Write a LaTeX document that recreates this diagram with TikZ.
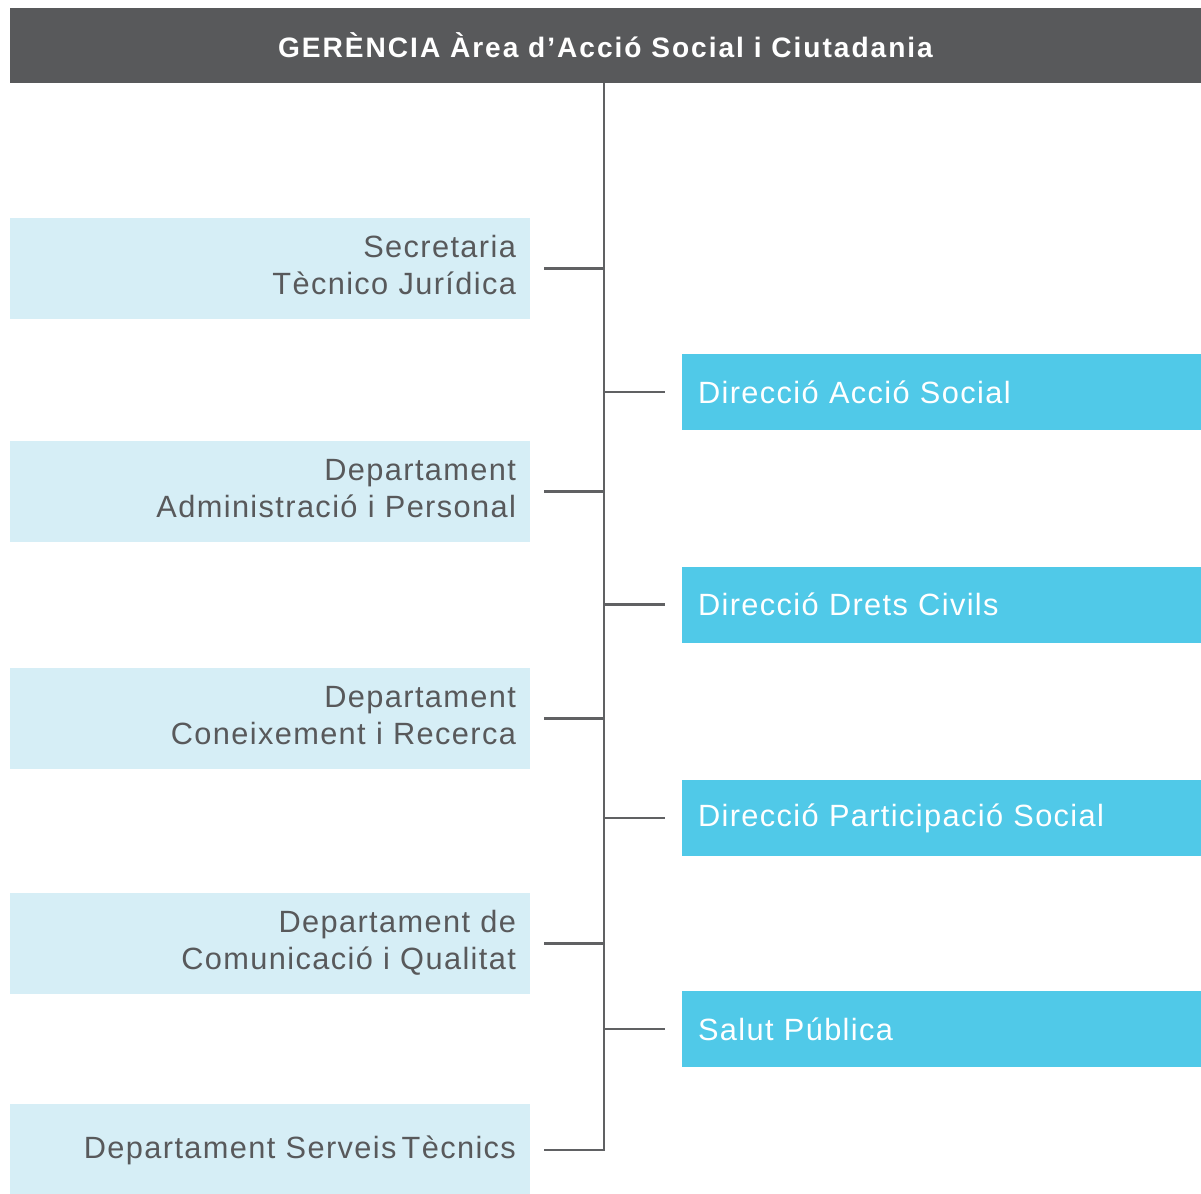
\documentclass[tikz,border=0pt]{standalone}
\usepackage{fontspec}
\setmainfont{Liberation Sans}[LetterSpace=4.5]
\newfontfamily\headfont{Liberation Sans}[LetterSpace=7]
\usetikzlibrary{positioning}

\definecolor{headgray}{HTML}{58595B}
\definecolor{palecyan}{HTML}{D6EEF6}
\definecolor{brightcyan}{HTML}{50C9E8}
\definecolor{linegray}{HTML}{606163}

\tikzset{
	leftbox/.style={fill=palecyan, text=headgray, minimum width=10.4cm, minimum height=2.02cm,
		text width=10.4cm-0.56cm, inner xsep=0.28cm, align=right, text depth=25pt,
		font=\fontsize{17.5}{21}\selectfont},
	rightbox/.style={fill=brightcyan, text=white, minimum width=10.38cm, minimum height=1.52cm,
		text width=10.38cm-0.64cm, inner xsep=0.32cm, align=left,
		font=\fontsize{17.5}{21}\selectfont},
	link/.style={draw=linegray, line width=1.6pt}
}

\begin{document}
\begin{tikzpicture}[x=0.02cm, y=-0.02cm]
		\useasboundingbox (0,0) rectangle (1201,1194);
		% header
		\node[fill=headgray, text=white, minimum width=23.82cm, minimum height=1.5cm,
			font=\headfont\bfseries\fontsize{16}{20}\selectfont] (gerencia) at (605.5,45.5)
			{GERÈNCIA Àrea d’Acció Social i Ciutadania};
		\coordinate (trunk) at (604,83);
		% left column
		\node[leftbox] (secretaria) at (270,268.5) {Secretaria\\Tècnico Jurídica};
		\node[leftbox] (administracio) at (270,491.5) {Departament\\Administració i Personal};
		\node[leftbox] (coneixement) at (270,718.5) {Departament\\Coneixement i Recerca};
		\node[leftbox] (comunicacio) at (270,943.5) {Departament de\\Comunicació i Qualitat};
		\node[leftbox, minimum height=1.84cm, text depth=3pt] (serveis) at (270,1150) {Departament Serveis\,Tècnics};
		% right column
		\node[rightbox] (accio) at (941.5,392) {Direcció Acció Social};
		\node[rightbox] (drets) at (941.5,604.5) {Direcció Drets Civils};
		\node[rightbox] (participacio) at (941.5,818) {Direcció Participació Social};
		\node[rightbox] (salut) at (941.5,1029) {Salut Pública};
		% connectors
		\draw[link] (trunk) |- ([xshift=0.28cm]serveis.east);
		\foreach \b in {secretaria, administracio, coneixement, comunicacio}
			\draw[link] ([xshift=0.28cm]\b.east) -- (\b.east -| trunk);
		\foreach \b in {accio, drets, participacio, salut}
			\draw[link] (\b.west -| trunk) -- ([xshift=-0.34cm]\b.west);
	\end{tikzpicture}
\end{document}
